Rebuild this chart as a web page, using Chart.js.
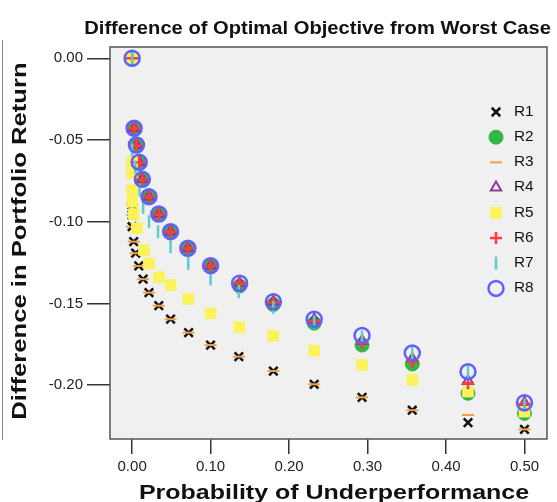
<!DOCTYPE html>
<html>
<head>
<meta charset="utf-8">
<script src="https://cdn.jsdelivr.net/npm/chart.js@4"></script>
<style>
html,body{margin:0;padding:0;background:#fff;}
</style>
</head>
<body>
<canvas id="chart" width="557" height="502"></canvas>
<script>
const seriesNames = ["R1","R2","R3","R4","R5","R6","R7","R8"];
const xTicks = [0, 0.1, 0.2, 0.3, 0.4, 0.5];
const yTicks = [0, -0.05, -0.10, -0.15, -0.20];

// probability of underperformance (x) and difference in return (y), per series
const probR1 = [0, 0, 0, 0, 0.002, 0.0045, 0.0085, 0.014, 0.0215, 0.034, 0.049, 0.072, 0.1, 0.136, 0.18, 0.232, 0.293, 0.357, 0.428, 0.5];
const diffR1 = [0, -0.0898, -0.0959, -0.1031, -0.1122, -0.1193, -0.1271, -0.1352, -0.1434, -0.1514, -0.1597, -0.1679, -0.1755, -0.1826, -0.1914, -0.1995, -0.2075, -0.2154, -0.2230, -0.2271];

const probR3 = [0, 0, 0, 0, 0, 0, 0, 0.002, 0.0045, 0.0085, 0.014, 0.0215, 0.034, 0.049, 0.072, 0.1, 0.136, 0.18, 0.232, 0.293, 0.357, 0.428, 0.5];
const diffR3 = [0, -0.0633, -0.0704, -0.0806, -0.0898, -0.0959, -0.1031, -0.1122, -0.1193, -0.1271, -0.1352, -0.1434, -0.1514, -0.1597, -0.1679, -0.1755, -0.1826, -0.1914, -0.1995, -0.2075, -0.2154, -0.2183, -0.2271];

const probR5 = [0, 0, 0, 0, 0.0005, 0.002, 0.006, 0.015, 0.0215, 0.034, 0.049, 0.0715, 0.1, 0.1365, 0.18, 0.232, 0.293, 0.357, 0.428, 0.5];
const diffR5 = [0, -0.0633, -0.0704, -0.0806, -0.0879, -0.0953, -0.1040, -0.1173, -0.1255, -0.1340, -0.1388, -0.1473, -0.1561, -0.1646, -0.1699, -0.1789, -0.1877, -0.1969, -0.2040, -0.2163];

const probGrid = [0, 0.0025, 0.0055, 0.009, 0.013, 0.0215, 0.034, 0.049, 0.071, 0.1, 0.137, 0.18, 0.232, 0.293, 0.357, 0.428, 0.5];
const diffR2 = [0, -0.0430, -0.0533, -0.0638, -0.0743, -0.0849, -0.0955, -0.1063, -0.1165, -0.1271, -0.1394, -0.1507, -0.1621, -0.1755, -0.1871, -0.2050, -0.2173];
const diffR4 = [0, -0.0428, -0.0531, -0.0636, -0.0741, -0.0847, -0.0953, -0.1061, -0.1163, -0.1269, -0.1377, -0.1490, -0.1600, -0.1730, -0.1840, -0.1975, -0.2110];
const diffR6 = [0, -0.0428, -0.0531, -0.0636, -0.0741, -0.0847, -0.0953, -0.1061, -0.1163, -0.1269, -0.1377, -0.1495, -0.1609, -0.1743, -0.1857, -0.1989, -0.2116];
const diffR8 = [0, -0.0428, -0.0531, -0.0636, -0.0741, -0.0847, -0.0953, -0.1061, -0.1163, -0.1269, -0.1377, -0.1490, -0.1597, -0.1696, -0.1804, -0.1918, -0.2108];

const probR7 = [0, 0, 0.004, 0.0095, 0.014, 0.0215, 0.033, 0.049, 0.0715, 0.1, 0.136, 0.18, 0.232, 0.293, 0.357, 0.428, 0.5];
const diffR7 = [0, -0.0561, -0.0665, -0.0806, -0.0913, -0.1000, -0.1061, -0.1153, -0.1255, -0.1351, -0.1428, -0.1524, -0.1614, -0.1706, -0.1804, -0.1920, -0.2122];

const seriesX = [probR1, probGrid, probR3, probGrid, probR5, probGrid, probR7, probGrid];
const seriesY = [diffR1, diffR2, diffR3, diffR4, diffR5, diffR6, diffR7, diffR8];

const chartTitle = "Difference of Optimal Objective from Worst Case";
const xTitle = "Probability of Underperformance";
const yTitle = "Difference in Portfolio Return";

// marker look for each series
const markers = [
  {style:"crossRot", color:"#111111", fill:"#111111", r:6, w:2.5},
  {style:"circle", color:"#2fb844", fill:"#2fb844", r:7, w:1},
  {style:"line", color:"#f4a040", fill:"#f4a040", r:6, w:2},
  {style:"triangle", color:"#8a3c96", fill:"rgba(0,0,0,0)", r:6, w:2},
  {style:"rect", color:"#fbf25c", fill:"#fbf25c", r:7.5, w:1},
  {style:"cross", color:"#ff3a3a", fill:"#ff3a3a", r:6, w:2.5},
  {style:"line", color:"#5fcccc", fill:"#5fcccc", r:6.5, w:2.5, rot:90},
  {style:"circle", color:"#6060ff", fill:"rgba(0,0,0,0)", r:7.5, w:2.5}
];

const datasets = seriesNames.map((name, i) => ({
  label: name,
  data: seriesX[i].map((x, j) => ({x: x, y: seriesY[i][j]})),
  pointStyle: markers[i].style,
  pointRotation: markers[i].rot || 0,
  pointRadius: markers[i].r,
  pointBorderWidth: markers[i].w,
  pointBorderColor: markers[i].color,
  pointBackgroundColor: markers[i].fill,
  showLine: false,
  order: 8 - i
}));

// draws text squeezed or stretched sideways, like the original export
function wideText(ctx, text, x, y, sx, angle){
  ctx.save();
  ctx.translate(x, y);
  ctx.rotate(angle);
  ctx.scale(sx, 1);
  ctx.fillText(text, 0, 0);
  ctx.restore();
}

const frame = {
  id: "frame",
  beforeDatasetsDraw(chart){
    const {ctx, chartArea:a} = chart;
    ctx.save();
    ctx.fillStyle = "#f0f0f0";
    ctx.fillRect(a.left, a.top, a.right - a.left, a.bottom - a.top);
    ctx.restore();
  },
  afterDraw(chart){
    const {ctx, chartArea:a} = chart;
    ctx.save();
    ctx.strokeStyle = "#555";
    ctx.lineWidth = 1.5;
    ctx.strokeRect(a.left, a.top, a.right - a.left, a.bottom - a.top);
    ctx.strokeStyle = "#888";
    ctx.lineWidth = 1;
    ctx.beginPath();
    ctx.moveTo(2.5, 40);
    ctx.lineTo(2.5, 440);
    ctx.stroke();

    // titles
    ctx.fillStyle = "#111";
    ctx.textBaseline = "middle";
    ctx.font = "bold 18px 'Liberation Sans', Arial, sans-serif";
    ctx.textAlign = "right";
    wideText(ctx, chartTitle, 551, 29, 1.12, 0);
    ctx.textAlign = "center";
    ctx.font = "bold 21px 'Liberation Sans', Arial, sans-serif";
    wideText(ctx, xTitle, 334, 493, 1.19, 0);
    wideText(ctx, yTitle, 20.5, 241, 1.22, -Math.PI / 2);

    // legend
    ctx.font = "14px 'Liberation Sans', Arial, sans-serif";
    ctx.textAlign = "left";
    chart.data.datasets.forEach((ds, i) => {
      const y = 112 + 25.2 * i;
      ctx.fillStyle = ds.pointBackgroundColor;
      ctx.strokeStyle = ds.pointBorderColor;
      ctx.lineWidth = ds.pointBorderWidth;
      Chart.helpers.drawPoint(ctx, {pointStyle: ds.pointStyle, rotation: ds.pointRotation, radius: ds.pointRadius, borderWidth: ds.pointBorderWidth}, 496, y);
      ctx.fillStyle = "#111";
      wideText(ctx, ds.label, 514, y, 1.1, 0);
    });
    ctx.restore();
  }
};

new Chart(document.getElementById("chart"), {
  type: "scatter",
  data: {datasets: datasets},
  options: {
    responsive: false,
    animation: false,
    events: [],
    layout: {padding: {top: 47, right: 6, bottom: 0, left: 0}},
    plugins: {legend: {display: false}, tooltip: {enabled: false}},
    scales: {
      x: {
        type: "linear",
        min: -0.0282,
        max: 0.5287,
        afterBuildTicks: s => { s.ticks = xTicks.map(v => ({value: v})); },
        afterFit: s => { s.height = 63; },
        border: {display: false},
        grid: {drawOnChartArea: false, tickLength: 15, color: "#333", lineWidth: 1.5},
        ticks: {callback: v => v.toFixed(2), font: {size: 15, family: "'Liberation Sans', Arial"}, color: "#222", padding: 4, maxRotation: 0, autoSkip: false}
      },
      y: {
        min: -0.233,
        max: 0.0069,
        afterBuildTicks: s => { s.ticks = yTicks.map(v => ({value: v})); },
        afterFit: s => { s.width = 110; },
        border: {display: false},
        grid: {drawOnChartArea: false, tickLength: 23, color: "#333", lineWidth: 1.5},
        ticks: {callback: v => v.toFixed(2), font: {size: 15, family: "'Liberation Sans', Arial"}, color: "#222", padding: 4, autoSkip: false}
      }
    }
  },
  plugins: [frame]
});
</script>
</body>
</html>
